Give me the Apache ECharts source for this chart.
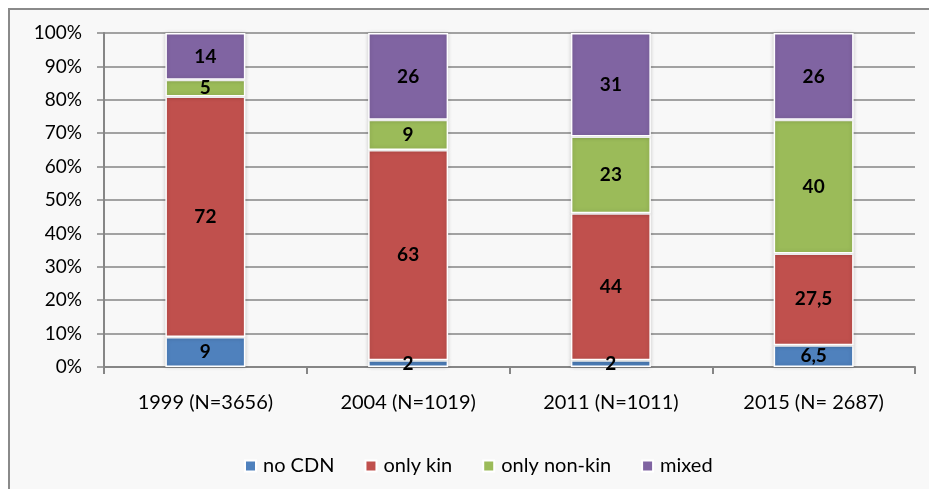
<!DOCTYPE html>
<html>
<head>
<meta charset="utf-8">
<script src="https://cdn.jsdelivr.net/npm/echarts@6/dist/echarts.min.js"></script>
<style>
    html, body { margin: 0; padding: 0; background: #fff; }
    #chart { width: 929px; height: 489px; }
</style>
</head>
<body>
<div id="chart"></div>
<script>
    // categories and shares (%)
    const years = ['1999 (N=3656)', '2004 (N=1019)', '2011 (N=1011)', '2015 (N= 2687)'];
    const noCdn = [9, 2, 2, 6.5];
    const onlyKin = [72, 63, 44, 27.5];
    const onlyNonKin = [5, 9, 23, 40];
    const mixed = [14, 26, 31, 26];
    const yTicks = [0, 10, 20, 30, 40, 50, 60, 70, 80, 90, 100];

    const colors = ['#4f81bd', '#c0504d', '#9bbb59', '#8064a2'];
    const font = 'Lato, "Open Sans", sans-serif';

    const myChart = echarts.init(document.getElementById('chart'));

    function makeSeries(name, data) {
        return {
            name: name,
            type: 'bar',
            stack: 'all',
            barWidth: 80,
            data: data,
            itemStyle: {
                borderColor: '#fff',
                borderWidth: 1.5,
                shadowColor: 'rgba(0,0,0,0.18)',
                shadowBlur: 4
            },
            label: {
                show: true,
                position: 'inside',
                color: '#000',
                fontFamily: font,
                fontWeight: 'bold',
                fontSize: 19,
                formatter: function (p) {
                    return String(p.value).replace('.', ',');
                }
            }
        };
    }

    const option = {
        color: colors,
        animation: false,
        graphic: [{
            type: 'rect',
            z: -10,
            silent: true,
            shape: { x: 9, y: 9, width: 1000, height: 1000 },
            style: { fill: '#f8f8f8', stroke: '#8a8a8a', lineWidth: 2 }
        }],
        legend: {
            left: 239,
            top: 451,
            itemWidth: 11,
            itemHeight: 11,
            itemGap: 30,
            icon: 'rect',
            textStyle: { fontFamily: font, fontSize: 20, color: '#000', padding: [0, 0, 0, 2] },
            data: ['no CDN', 'only kin', 'only non-kin', 'mixed']
        },
        grid: { left: 104, right: 14, top: 33, bottom: 122 },
        xAxis: {
            type: 'category',
            data: years,
            axisLine: { lineStyle: { color: '#868686', width: 2 } },
            axisTick: { show: true, length: 7, lineStyle: { color: '#868686', width: 2 } },
            axisLabel: { margin: 26, color: '#000', fontFamily: font, fontSize: 20 }
        },
        yAxis: {
            type: 'value',
            min: yTicks[0],
            max: yTicks[yTicks.length - 1],
            interval: yTicks[1] - yTicks[0],
            axisLine: { show: true, lineStyle: { color: '#868686', width: 2 } },
            axisTick: { show: true, length: 7, lineStyle: { color: '#868686', width: 1.5 } },
            splitLine: { lineStyle: { color: '#868686', width: 1.5 } },
            axisLabel: { margin: 22, color: '#000', fontFamily: font, fontSize: 19, formatter: '{value}%' }
        },
        series: [
            makeSeries('no CDN', noCdn),
            makeSeries('only kin', onlyKin),
            makeSeries('only non-kin', onlyNonKin),
            makeSeries('mixed', mixed)
        ]
    };
    myChart.setOption(option);
</script>
</body>
</html>
